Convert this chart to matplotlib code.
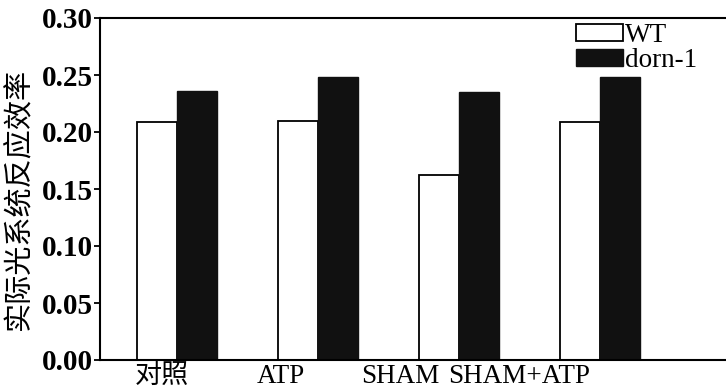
import matplotlib
matplotlib.use('Agg')
import matplotlib.pyplot as plt
import numpy as np

categories = ['对照', 'ATP', 'SHAM', 'SHAM+ATP']
wt = [0.209, 0.210, 0.162, 0.209]
dorn1 = [0.236, 0.248, 0.235, 0.248]
series_names = ['WT', 'dorn-1']
yticks = [0.00, 0.05, 0.10, 0.15, 0.20, 0.25, 0.30]

fig = plt.figure(figsize=(7.26, 3.92), dpi=100)
ax = fig.add_axes([100 / 726, 1 - 360 / 392, 626 / 726, 342 / 392])

x = np.arange(len(categories))
w = 0.284
ax.bar(x - w / 2, wt, w, color='white', edgecolor='black', linewidth=1.3, label=series_names[0])
ax.bar(x + w / 2, dorn1, w, color='#111111', edgecolor='#111111', linewidth=1.0, label=series_names[1])

ax.set_xlim(-0.546, 3.897)
ax.set_ylim(0, 0.30)
ax.set_yticks(yticks)
ax.set_yticklabels([f'{t:.2f}' for t in yticks], family='Liberation Serif',
                   fontweight='bold', fontsize=21)

# labels sit left of the bar pairs in the original
label_pos = -0.106 + 0.845 * x
ax.set_xticks(label_pos)
ax.set_xticklabels(categories, family=['Liberation Serif', 'Noto Sans CJK SC'], fontsize=19.5)
ax.tick_params(axis='x', length=0, pad=3)
ax.tick_params(axis='y', direction='out', length=4, width=1.3, pad=1)

ax.spines['right'].set_visible(False)
for s in ['left', 'top', 'bottom']:
    ax.spines[s].set_linewidth(1.5)

ax.set_ylabel('实际光系统反应效率', family=['Noto Sans CJK SC', 'DejaVu Sans'], fontsize=21)
ax.yaxis.set_label_coords(-0.107, 0.47)

leg = ax.legend(loc='upper left', bbox_to_anchor=((576 - 100) / 626, (360 - 23) / 342),
                frameon=False, prop={'family': 'Liberation Serif', 'size': 19.5},
                borderpad=0, borderaxespad=0, handlelength=1.75, handleheight=0.6,
                handletextpad=0.05, labelspacing=0.0)

fig.savefig('out.png', dpi=100)
